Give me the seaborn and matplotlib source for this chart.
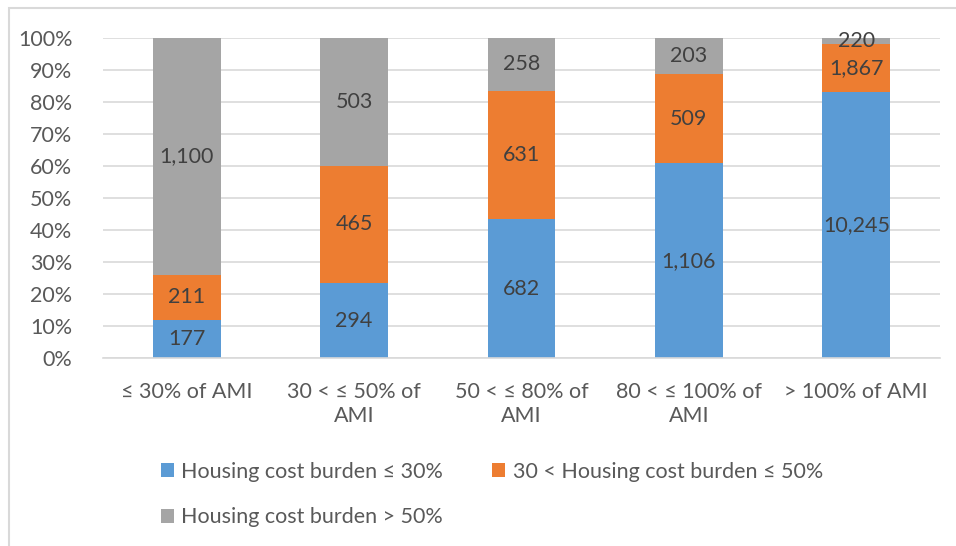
import matplotlib
matplotlib.use("Agg")
import matplotlib.pyplot as plt
from matplotlib.patches import Patch, Rectangle
import numpy as np
import pandas as pd
import seaborn as sns

# Households by income band and housing cost burden
categories = ["≤ 30% of AMI", "30 < ≤ 50% of\nAMI", "50 < ≤ 80% of\nAMI",
              "80 < ≤ 100% of\nAMI", "> 100% of AMI"]
burden_le30 = [177, 294, 682, 1106, 10245]
burden_30_50 = [211, 465, 631, 509, 1867]
burden_gt50 = [1100, 503, 258, 203, 220]
series_names = ["Housing cost burden ≤ 30%",
                "30 < Housing cost burden ≤ 50%",
                "Housing cost burden > 50%"]
colors = ["#5b9bd5", "#ed7d31", "#a5a5a5"]
text_grey = "#595959"
label_grey = "#404040"
grid_grey = "#d9d9d9"

sns.set_theme(style="white")
plt.rcParams["font.family"] = ["Lato", "DejaVu Sans"]
fs = 15.5

counts = np.array([burden_le30, burden_30_50, burden_gt50], dtype=float)
totals = counts.sum(axis=0)
shares = counts / totals * 100
cum = np.cumsum(shares, axis=0)

df = pd.DataFrame({"category": categories,
                   "s1": cum[0], "s2": cum[1], "s3": cum[2]})

fig = plt.figure(figsize=(9.56, 5.46), dpi=100)
ax = fig.add_axes([103 / 956, 1 - 358 / 546, (940 - 103) / 956, 320 / 546])

# stacked look: draw cumulative totals from the back forward
for col, c in zip(["s3", "s2", "s1"], colors[::-1]):
    sns.barplot(data=df, x="category", y=col, color=c, width=0.405,
                saturation=1, ax=ax, zorder=2, edgecolor="none")

# values centred in each segment
for j in range(len(categories)):
    for i in range(3):
        base = cum[i - 1][j] if i > 0 else 0
        mid = base + shares[i][j] / 2
        ax.text(j, mid, f"{int(counts[i][j]):,}", ha="center", va="center",
                fontsize=fs, color=label_grey, zorder=5)

ax.set_ylim(0, 100)
ax.set_xlim(-0.5, len(categories) - 0.5)
ax.set_yticks(np.arange(0, 101, 10))
ax.set_yticklabels([f"{v}%" for v in range(0, 101, 10)])
ax.yaxis.grid(True, color=grid_grey, linewidth=1.2, zorder=0)
ax.set_axisbelow(True)
ax.set_xlabel("")
ax.set_ylabel("")
for s in ["top", "right", "left"]:
    ax.spines[s].set_visible(False)
ax.spines["bottom"].set_color(grid_grey)
ax.spines["bottom"].set_linewidth(1.2)
ax.tick_params(axis="y", length=0, labelsize=fs, labelcolor=text_grey, pad=22)
ax.tick_params(axis="x", which="major", length=0, labelsize=fs,
               labelcolor=text_grey, pad=17)
ax.set_xticks(np.arange(-0.5, len(categories)), minor=True)
ax.tick_params(axis="x", which="minor", length=6, color=grid_grey, width=1.2)
for t in ax.get_xticklabels():
    t.set_linespacing(1.3)

# legend laid out row by row: two entries on the first row, one below
handles = [Patch(facecolor=c, edgecolor="none") for c in colors]
order = [0, 2, 1]
fig.legend([handles[k] for k in order], [series_names[k] for k in order],
           ncol=2, loc="upper left",
           bbox_to_anchor=(152 / 956, 1 - 453 / 546), frameon=False,
           fontsize=fs, labelcolor=text_grey, handlelength=0.6,
           handleheight=0.6, handletextpad=0.35, columnspacing=2.3,
           labelspacing=1.2, borderaxespad=0)

# chart frame
fig.patches.append(Rectangle((9 / 956, -0.1), 1.2, 1 - 8 / 546 + 0.1,
                             transform=fig.transFigure, fill=False,
                             edgecolor=grid_grey, linewidth=1.5))

fig.savefig("out.png", dpi=100)
